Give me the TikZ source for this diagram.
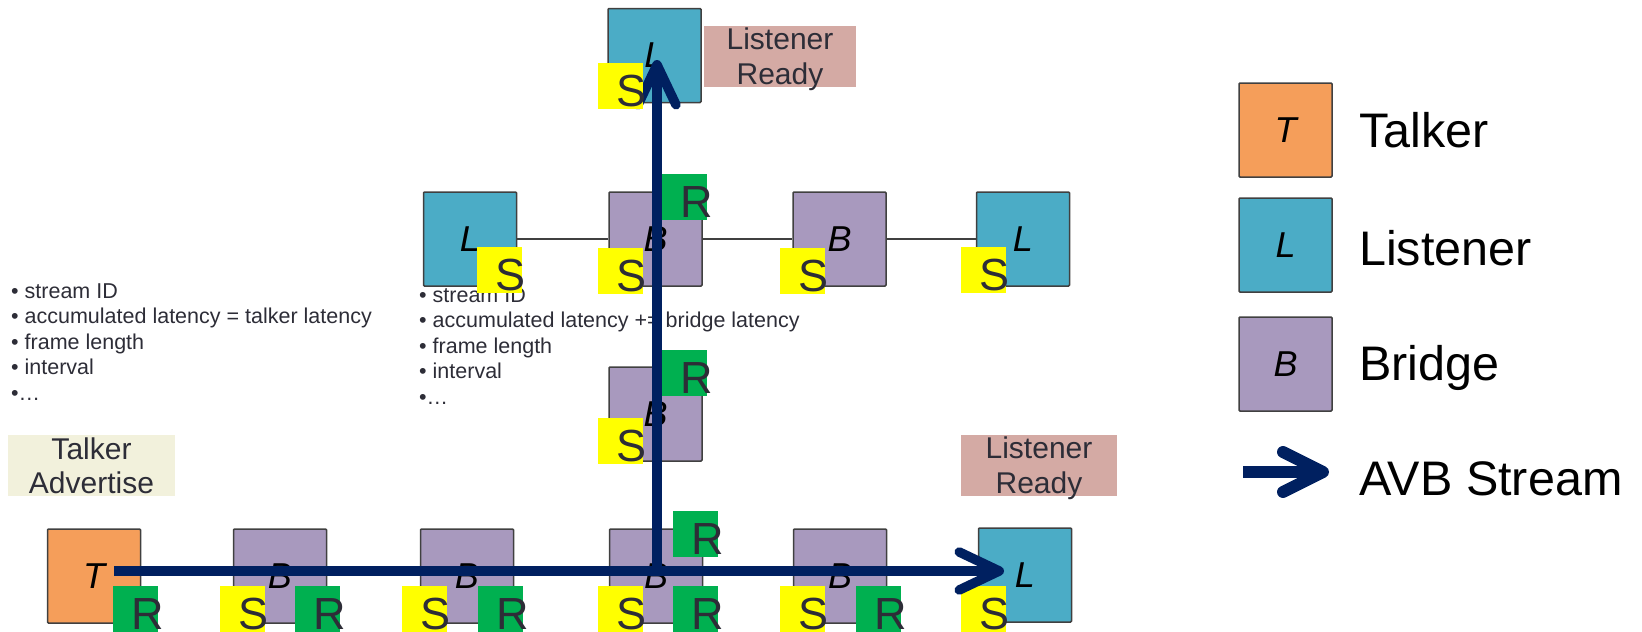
\documentclass[tikz,border=0pt]{standalone}
\usepackage{fontspec}
\setmainfont{Liberation Sans}
\usetikzlibrary{arrows.meta,calc}
\definecolor{orangeC}{RGB}{245,158,90}
\definecolor{tealC}{RGB}{75,172,198}
\definecolor{purpleC}{RGB}{168,153,190}
\definecolor{edgeC}{RGB}{64,64,64}
\definecolor{tagY}{RGB}{255,255,0}
\definecolor{tagG}{RGB}{0,176,80}
\definecolor{navy}{RGB}{0,32,96}
\definecolor{txt}{RGB}{45,45,55}
\definecolor{readyC}{RGB}{212,170,164}
\definecolor{advC}{RGB}{242,241,220}
\newcommand\tagtext[1]{\makebox[45pt][l]{\hspace*{18pt}#1}}
\tikzset{
  dev/.style={draw=edgeC, line width=1.5pt, minimum width=93pt, minimum height=94pt,
    inner sep=0pt, rounded corners=1pt, font=\fontsize{36}{40}\selectfont\itshape},
  talker/.style={dev, fill=orangeC},
  listener/.style={dev, fill=tealC},
  bridge/.style={dev, fill=purpleC},
  tagbox/.style={anchor=north west, minimum width=45pt, minimum height=46pt, inner sep=0pt,
    text height=43pt, text depth=3pt, font=\fontsize{45}{45}\selectfont, text=txt},
  stag/.style={tagbox, fill=tagY},
  rtag/.style={tagbox, fill=tagG},
  stream/.style={draw=navy, line width=9.5pt,
    -{Straight Barb[length=40pt, width=38pt, round]}},
  conn/.style={draw=edgeC, line width=1.5pt},
  listline/.style={anchor=base west, inner sep=0pt, text=txt, font=\fontsize{21.5}{25}\selectfont},
  msgbox/.style={inner sep=0pt, minimum height=61pt, align=center, text=txt,
    font=\fontsize{30}{35}\selectfont},
  legtext/.style={anchor=base west, inner sep=0pt, text=black, font=\fontsize{48.5}{50}\selectfont},
}
\begin{document}
\begin{tikzpicture}[x=1pt, y=-1pt]
\useasboundingbox (0,0) rectangle (1642,632);

% attribute lists
\node[listline] (la1) at (11,298) {• stream ID};
\node[listline] (la2) at (11,323.5) {• accumulated latency = talker latency};
\node[listline] (la3) at (11,349) {• frame length};
\node[listline] (la4) at (11,374.5) {• interval};
\node[listline] (la5) at (11,400) {•…};
\node[listline] (lb1) at (419,302) {• stream ID};
\node[listline] (lb2) at (419,327.5) {• accumulated latency += bridge latency};
\node[listline] (lb3) at (419,353) {• frame length};
\node[listline] (lb4) at (419,378.5) {• interval};
\node[listline] (lb5) at (419,404) {•…};

% message labels
\node[msgbox, fill=advC, minimum width=167pt] (adv) at (91.5,465.5) {Talker\\[-1pt]Advertise};
\node[msgbox, fill=readyC, minimum width=156pt] (rdy1) at (1039,465.5) {Listener\\Read\smash{y}};
\node[msgbox, fill=readyC, minimum width=152pt] (rdy2) at (780,56.5) {Listener\\Read\smash{y}};

% devices
\node[listener] (topL) at (654.5,55.5) {L};

\node[listener] (mL1) at (470,239) {L};
\node[bridge] (mB1) at (655.5,239) {B};
\node[bridge] (mB2) at (839.5,239) {B};
\node[listener] (mL2) at (1023,239) {L};
\draw[conn] (mL1) -- (mB1);
\draw[conn] (mB1) -- (mB2);
\draw[conn] (mB2) -- (mL2);

\node[bridge] (vB) at (655.5,414) {B};

\node[talker] (bT) at (94,576) {T};
\node[bridge] (bB1) at (280,576) {B};
\node[bridge] (bB2) at (467,576) {B};
\node[bridge] (bB3) at (656,576) {B};
\node[bridge] (bB4) at (840,576) {B};
\node[listener] (bL) at (1025,575) {L};

% vertical stream
\coordinate (vs) at (657,571);
\coordinate (ve) at (657,60);
\draw[stream] (vs) -- (ve);

% tags
\node[rtag] (r1) at (113,586) {\tagtext{R}};
\node[stag] (s1) at (220,586) {\tagtext{S}};
\node[rtag] (r2) at (295,586) {\tagtext{R}};
\node[stag] (s2) at (402,586) {\tagtext{S}};
\node[rtag] (r3) at (478,586) {\tagtext{R}};
\node[stag] (s3) at (598,586) {\tagtext{S}};
\node[rtag] (r4) at (673,586) {\tagtext{R}};
\node[stag] (s4) at (780,586) {\tagtext{S}};
\node[rtag] (r5) at (856,586) {\tagtext{R}};
\node[stag] (s5) at (961,586) {\tagtext{S}};
\node[rtag] (r6) at (673,511) {\tagtext{R}};
\node[rtag] (r7) at (662,350) {\tagtext{R}};
\node[stag] (s6) at (598,418) {\tagtext{S}};
\node[rtag] (r8) at (662,174) {\tagtext{R}};
\node[stag] (s7) at (477,247) {\tagtext{S}};
\node[stag] (s8) at (598,248) {\tagtext{S}};
\node[stag] (s9) at (780,248) {\tagtext{S}};
\node[stag] (s10) at (961,247) {\tagtext{S}};
\node[stag] (s11) at (598,63) {\tagtext{S}};

% horizontal stream
\coordinate (hs) at (114,571);
\coordinate (he) at (1004,571);
\draw[stream] (hs) -- (he);

% legend
\node[talker] (legT) at (1285.5,130) {T};
\node[listener] (legL) at (1285.5,245) {L};
\node[bridge] (legB) at (1285.5,364) {B};
\coordinate (las) at (1243,472);
\coordinate (lae) at (1329,472);
\draw[stream, line width=12pt, -{Straight Barb[length=40pt, width=40pt, round]}] (las) -- (lae);
\node[legtext] (legTt) at (1359,147) {Talker};
\node[legtext] (legLt) at (1359,265) {Listener};
\node[legtext] (legBt) at (1359,380) {Bridge};
\node[legtext] (legAt) at (1359,495) {AVB Stream};
\end{tikzpicture}
\end{document}
